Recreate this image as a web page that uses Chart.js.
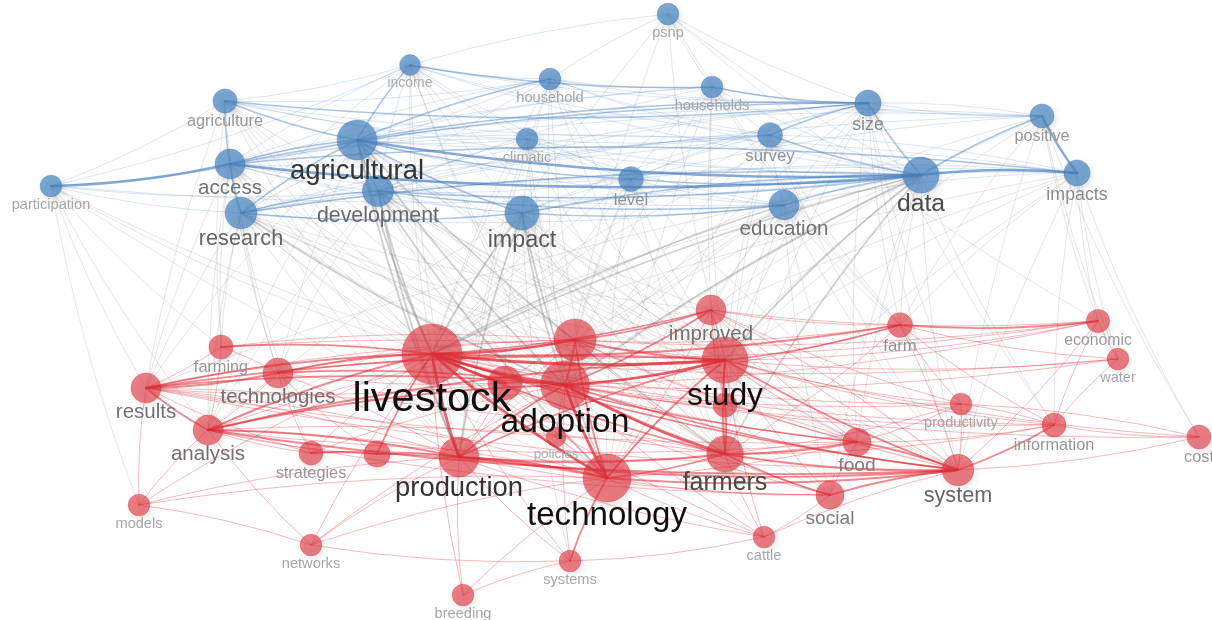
<!DOCTYPE html>
<html>
<head>
<meta charset="utf-8">
<script src="https://cdn.jsdelivr.net/npm/chart.js@4.4.1/dist/chart.umd.min.js"></script>
<style>
  html, body { margin: 0; padding: 0; background: #ffffff; }
  #wrap { width: 1212px; height: 620px; position: relative; }
</style>
</head>
<body>
<div id="wrap"><canvas id="map"></canvas></div>
<script>
// Keyword co-occurrence network: terms, their cluster, map coordinates and occurrences.
// Terms starting with '#' are nodes whose labels are suppressed (overlapping labels).
const terms = [
  'psnp', 'income', 'household', 'households', 'agriculture', 'size', 'positive',
  'agricultural', 'climatic', 'survey', 'access', 'participation', 'development',
  'level', 'data', 'impacts', 'research', 'impact', 'education',
  'improved', 'farm', 'economic', 'livestock', '#1', 'study', 'farming', 'water',
  'technologies', 'results', '#2', 'adoption', '#3', 'productivity', 'analysis',
  'information', 'cost', 'food', 'strategies', '#4', 'production', 'policies',
  'farmers', 'system', 'technology', 'social', 'models', 'networks', 'cattle',
  'systems', 'breeding'
];

const clusters = [
  1, 1, 1, 1, 1, 1, 1,
  1, 1, 1, 1, 1, 1,
  1, 1, 1, 1, 1, 1,
  2, 2, 2, 2, 2, 2, 2, 2,
  2, 2, 2, 2, 2, 2, 2,
  2, 2, 2, 2, 2, 2, 2,
  2, 2, 2, 2, 2, 2, 2,
  2, 2
];

const mapX = [
  668, 410, 550, 712, 225, 868, 1042,
  357, 527, 770, 230, 51, 378,
  631, 921, 1077, 241, 522, 784,
  711, 900, 1098, 432, 575, 725, 221, 1118,
  278, 146, 505, 565, 725, 961, 208,
  1054, 1199, 857, 311, 377, 459, 556,
  725, 958, 607, 830, 139, 311, 764,
  570, 463
];

const mapY = [
  14, 65, 79, 87, 101, 103, 116,
  140, 139, 135, 164, 186, 191,
  179, 175, 173, 213, 213, 205,
  310, 325, 321, 354, 340, 360, 347, 359,
  373, 388, 383, 385, 405, 404, 430,
  425, 437, 442, 453, 454, 457, 437,
  454, 470, 478, 495, 505, 545, 537,
  561, 595
];

const occurrences = [
  13, 12, 13, 13, 16, 19, 16,
  44, 13, 17, 25, 13, 27,
  17, 36, 19, 28, 32, 25,
  25, 17, 15, 100, 49, 59, 16, 13,
  25, 25, 32, 66, 16, 13, 25,
  16, 16, 22, 16, 19, 44, 11,
  37, 28, 64, 22, 13, 13, 13,
  13, 13
];

// Links as "source: target [strength], ..." (strength defaults to 1).
const links = [
  // within the blue cluster
  'participation: access 3, agricultural, research, development, data, agriculture, income',
  'agriculture: size 2, agricultural 2, access 2, research, income, household, data, climatic, development, survey',
  'income: households 2, size, agricultural 2, household, access, research, development, level, data, climatic, survey',
  'household: agricultural 2, households, size, access, survey, development, data, level, research, impact',
  'households: size 2, survey, data, level, agricultural, access, positive, development',
  'psnp: household, households, size, income, data',
  'size: data 2, survey 2, access 2, agricultural 2, level, positive, education, impact, development, research',
  'positive: impacts 3, data 2, access, agricultural, level, size, development',
  'impacts: data 3, agricultural, access 2, education, impact, level, survey, research',
  'agricultural: data 3, development 2, research 2, access 2, impact 2, education, level 2, climatic, survey',
  'climatic: survey, data, level, access, education, development',
  'survey: data 2, level, education, research, development',
  'access: data 3, research 2, development, level, impact, education, survey',
  'development: data 2, research 2, impact, level, education 2',
  'level: data 2, impact, research, education',
  'data: education 2, impact 2, research 2',
  'research: impact 2, education',
  'impact: education 2',
  // within the red cluster
  'livestock: adoption 3, study 3, production 3, technology 3, farmers 2, results 2, analysis 2, technologies 2, farming 2, strategies, system 2, food 2, social, farm 2, improved 2, #1 3, #2 3, #3, #4 2, policies, economic, water, productivity, information, cattle, systems, breeding, networks, models',
  'adoption: technology 3, study 3, farmers 3, production 2, results 2, analysis 2, technologies 2, improved 2, system 2, food, social, farm, #1 2, #2 2, #3, productivity, information, cattle, systems, strategies, policies, networks, economic, water, cost',
  '#1: study 2, technology 2, production, farmers, improved 2, farm, farming, technologies, system, economic, results, analysis, food, #2',
  'study: results 2, analysis 2, farmers 2, technology 2, production 2, system 2, food, social, farm 2, improved, economic, water, information, productivity, technologies, farming, cost, #3 2, cattle',
  'technology: farmers 2, production 2, analysis, results, system 2, social, systems 2, cattle, improved, food, networks, breeding, models, strategies, #2, #4, policies',
  'production: farmers 2, system 2, analysis 2, results, strategies, #4 2, technologies, food, social, systems, breeding, networks, models, cattle, #2',
  'farmers: system 2, social 2, food 2, results, analysis, improved, cattle, information, productivity, farm, #3 2',
  'results: analysis 2, technologies 2, farming, strategies, models, system, food, #2',
  'analysis: technologies, strategies, models, networks, system 2, farming, #4, food, social',
  'system: food 2, social 2, information 2, productivity, farm, economic, cost, improved, cattle',
  'improved: farm, food, productivity, system, economic, #3',
  'farm: economic 2, productivity, information, water',
  'food: social, productivity, information, #3',
  'technologies: farming, strategies, #2, #4',
  'networks: systems, models',
  'systems: breeding, cattle',
  'cattle: social',
  'economic: water, information',
  'water: information',
  'information: cost, productivity',
  'cost: productivity',
  '#4: strategies 2',
  // between the clusters
  'agricultural: livestock 2, adoption 2, technology, production 2, study, farmers 2, #1, analysis, results, technologies, system, food, improved',
  'development: livestock 2, adoption, technology 2, production 2, study, farmers, #1, system, analysis, food, social, technologies, #2',
  'research: livestock, adoption 2, technology, production, study, farmers, results, analysis, farming, technologies, #1, improved, system',
  'impact: livestock 2, adoption 2, technology 2, production 2, study, farmers, #1, #2, analysis, system, food, social, systems, cattle',
  'access: livestock, adoption, technology, production, farmers, results, analysis, technologies, farming, strategies',
  'data: livestock 2, adoption 2, study 2, technology, production, farmers 2, #1, improved, system, food, farm, social, information, results, analysis',
  'education: livestock 2, adoption, study, technology, production, farmers, improved, system, food, farm, #1, social',
  'level: livestock, adoption, study, technology, farmers, production, system, #1',
  'survey: livestock, adoption, study, farmers, technology, system, farm',
  'size: livestock, adoption, study, farmers, farm, food, system, productivity, information',
  'impacts: livestock, adoption, study, farmers, system, economic, water, cost, information, farm',
  'positive: livestock, adoption, study, farm, economic, water, cost, system',
  'climatic: livestock, adoption, study, production, technology, farmers',
  'household: livestock, adoption, study, technology, production, farmers',
  'households: livestock, adoption, study, technology, farmers, farm',
  'income: livestock, adoption, production, technology, farmers, study',
  'agriculture: livestock, adoption, production, technology, farmers, results, farming',
  'participation: livestock, adoption, results, farming, analysis, technology, models',
  'psnp: farm, livestock, adoption, economic, study'
];

// ---------------------------------------------------------------------------

const nodeIndex = Object.fromEntries(terms.map((t, i) => [t, i]));
const edges = [];
links.forEach(line => {
  const cut = line.indexOf(':');
  const s = nodeIndex[line.slice(0, cut).trim()];
  line.slice(cut + 1).split(',').forEach(part => {
    const [name, w] = part.trim().split(/\s+/);
    const t = nodeIndex[name];
    if (s !== undefined && t !== undefined) edges.push({ s, t, w: w ? +w : 1 });
  });
});

const radiusOf = occ => 3 * Math.sqrt(occ);

const CLUSTER_FILL = { 1: 'rgba(74,134,196,0.72)', 2: 'rgba(228,52,62,0.62)' };
const CLUSTER_EDGE = { 1: 'rgba(66,124,190,', 2: 'rgba(226,38,50,' };
const MIXED_EDGE = 'rgba(125,125,125,';

// Curved links drawn beneath the nodes, positioned through the chart scales.
const linkLayer = {
  id: 'linkLayer',
  beforeDatasetsDraw(chart) {
    const { ctx, scales: { x, y } } = chart;
    ctx.save();
    ctx.lineCap = 'round';
    const groups = [
      edges.filter(e => clusters[e.s] !== clusters[e.t]),
      edges.filter(e => clusters[e.s] === 1 && clusters[e.t] === 1),
      edges.filter(e => clusters[e.s] === 2 && clusters[e.t] === 2)
    ];
    groups.forEach((group, gi) => {
      group.forEach(e => {
        const x1 = x.getPixelForValue(mapX[e.s]), y1 = y.getPixelForValue(mapY[e.s]);
        const x2 = x.getPixelForValue(mapX[e.t]), y2 = y.getPixelForValue(mapY[e.t]);
        const dx = x2 - x1, dy = y2 - y1;
        const len = Math.hypot(dx, dy) || 1;
        const bend = 0.05 * len;
        const cx = (x1 + x2) / 2 - dy / len * bend;
        const cy = (y1 + y2) / 2 + dx / len * bend;
        let base, alpha, width;
        if (gi === 0) {
          base = MIXED_EDGE; alpha = [0, 0.2, 0.36, 0.5][e.w]; width = [0, 1, 1.8, 2.6][e.w];
        } else if (gi === 1) {
          base = CLUSTER_EDGE[1]; alpha = [0, 0.22, 0.45, 0.65][e.w]; width = [0, 0.9, 1.5, 2.4][e.w];
        } else {
          base = CLUSTER_EDGE[2]; alpha = [0, 0.32, 0.55, 0.72][e.w]; width = [0, 1, 1.8, 2.8][e.w];
        }
        ctx.strokeStyle = base + alpha + ')';
        ctx.lineWidth = width;
        ctx.beginPath();
        ctx.moveTo(x1, y1);
        ctx.quadraticCurveTo(cx, cy, x2, y2);
        ctx.stroke();
      });
    });
    ctx.restore();
  }
};

// Soft drop shadow under the bubbles.
const nodeShadow = {
  id: 'nodeShadow',
  beforeDatasetDraw(chart) {
    const ctx = chart.ctx;
    ctx.save();
    ctx.shadowColor = 'rgba(0,0,0,0.16)';
    ctx.shadowBlur = 7;
    ctx.shadowOffsetX = 2;
    ctx.shadowOffsetY = 3;
  },
  afterDatasetDraw(chart) {
    chart.ctx.restore();
  }
};

// Term labels below each node; size and darkness follow node weight.
const termLabels = {
  id: 'termLabels',
  afterDatasetsDraw(chart) {
    const { ctx, scales: { x, y } } = chart;
    ctx.save();
    ctx.textAlign = 'center';
    ctx.textBaseline = 'middle';
    terms.forEach((t, i) => {
      if (t.startsWith('#')) return;
      const r = radiusOf(occurrences[i]);
      const size = 1.4 * r - 0.5;
      const g = Math.round(Math.max(15, Math.min(175, 300 - 12.5 * r)));
      ctx.font = size.toFixed(1) + 'px "Liberation Sans", Arial, sans-serif';
      ctx.fillStyle = `rgb(${g},${g},${g})`;
      ctx.fillText(t, x.getPixelForValue(mapX[i]), y.getPixelForValue(mapY[i]) + r + 0.3 * size + 3.5);
    });
    ctx.restore();
  }
};

const datasets = [1, 2].map(c => ({
  label: 'Cluster ' + c,
  data: terms
    .map((t, i) => ({ x: mapX[i], y: mapY[i], r: radiusOf(occurrences[i]), i }))
    .filter(d => clusters[d.i] === c),
  backgroundColor: CLUSTER_FILL[c],
  borderColor: c === 1 ? 'rgba(60,112,170,0.35)' : 'rgba(200,40,50,0.3)',
  borderWidth: 1,
  hoverBorderWidth: 1,
  clip: false
}));

new Chart(document.getElementById('map'), {
  type: 'bubble',
  data: { datasets },
  options: {
    responsive: true,
    maintainAspectRatio: false,
    animation: false,
    events: [],
    layout: { padding: 0, autoPadding: false },
    scales: {
      x: { type: 'linear', min: 0, max: 1212, display: false },
      y: { type: 'linear', min: 0, max: 620, reverse: true, display: false }
    },
    plugins: {
      legend: { display: false },
      tooltip: { enabled: false }
    }
  },
  plugins: [linkLayer, nodeShadow, termLabels]
});
</script>
</body>
</html>
